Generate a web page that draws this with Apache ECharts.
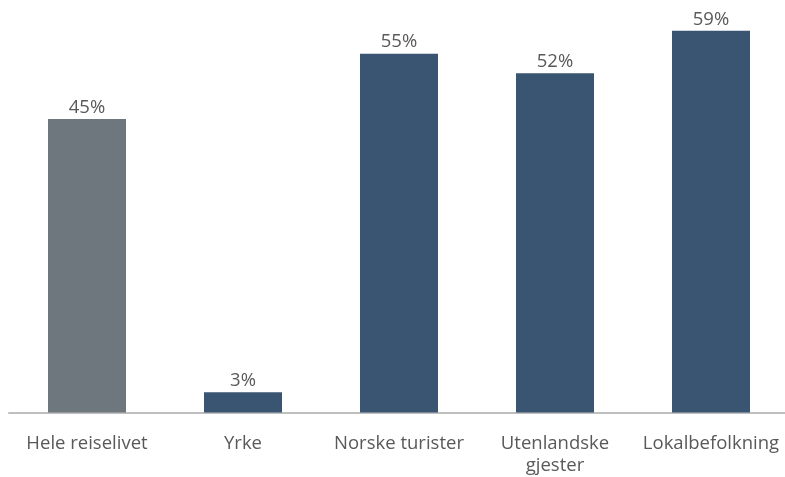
<!DOCTYPE html>
<html>
<head>
<meta charset="utf-8">
<script src="https://cdn.jsdelivr.net/npm/echarts@6/dist/echarts.min.js"></script>
<style>
html,body{margin:0;padding:0;background:#fff;overflow:hidden;}
#chart{width:789px;height:477px;}
</style>
</head>
<body>
<div id="chart"></div>
<script>
var categories = ['Hele reiselivet', 'Yrke', 'Norske turister', 'Utenlandske\ngjester', 'Lokalbefolkning'];
var values = [45, 3.1, 55, 52, 58.5];
var barColors = ['#6e777e', '#3a5572', '#3a5572', '#3a5572', '#3a5572'];

var chart = echarts.init(document.getElementById('chart'));
chart.setOption({
  animation: false,
  grid: { left: 9, right: 0, top: 21, bottom: 64.5, containLabel: false },
  xAxis: {
    type: 'category',
    data: categories,
    axisLine: { show: true, lineStyle: { color: '#bfbfbf', width: 2 } },
    axisTick: { show: false },
    axisLabel: {
      interval: 0,
      color: '#595959',
      fontFamily: 'Open Sans',
      fontSize: 18.5,
      lineHeight: 22,
      margin: 20
    }
  },
  yAxis: {
    type: 'value',
    min: 0,
    max: 60,
    show: false,
    splitLine: { show: false }
  },
  series: [{
    type: 'bar',
    barWidth: 78,
    data: values.map(function (v, i) {
      return { value: v, itemStyle: { color: barColors[i] } };
    }),
    label: {
      show: true,
      position: 'top',
      distance: 2,
      color: '#595959',
      fontFamily: 'Open Sans',
      fontSize: 18.5,
      formatter: function (p) { return Math.round(p.value) + '%'; }
    }
  }]
});
</script>
</body>
</html>
